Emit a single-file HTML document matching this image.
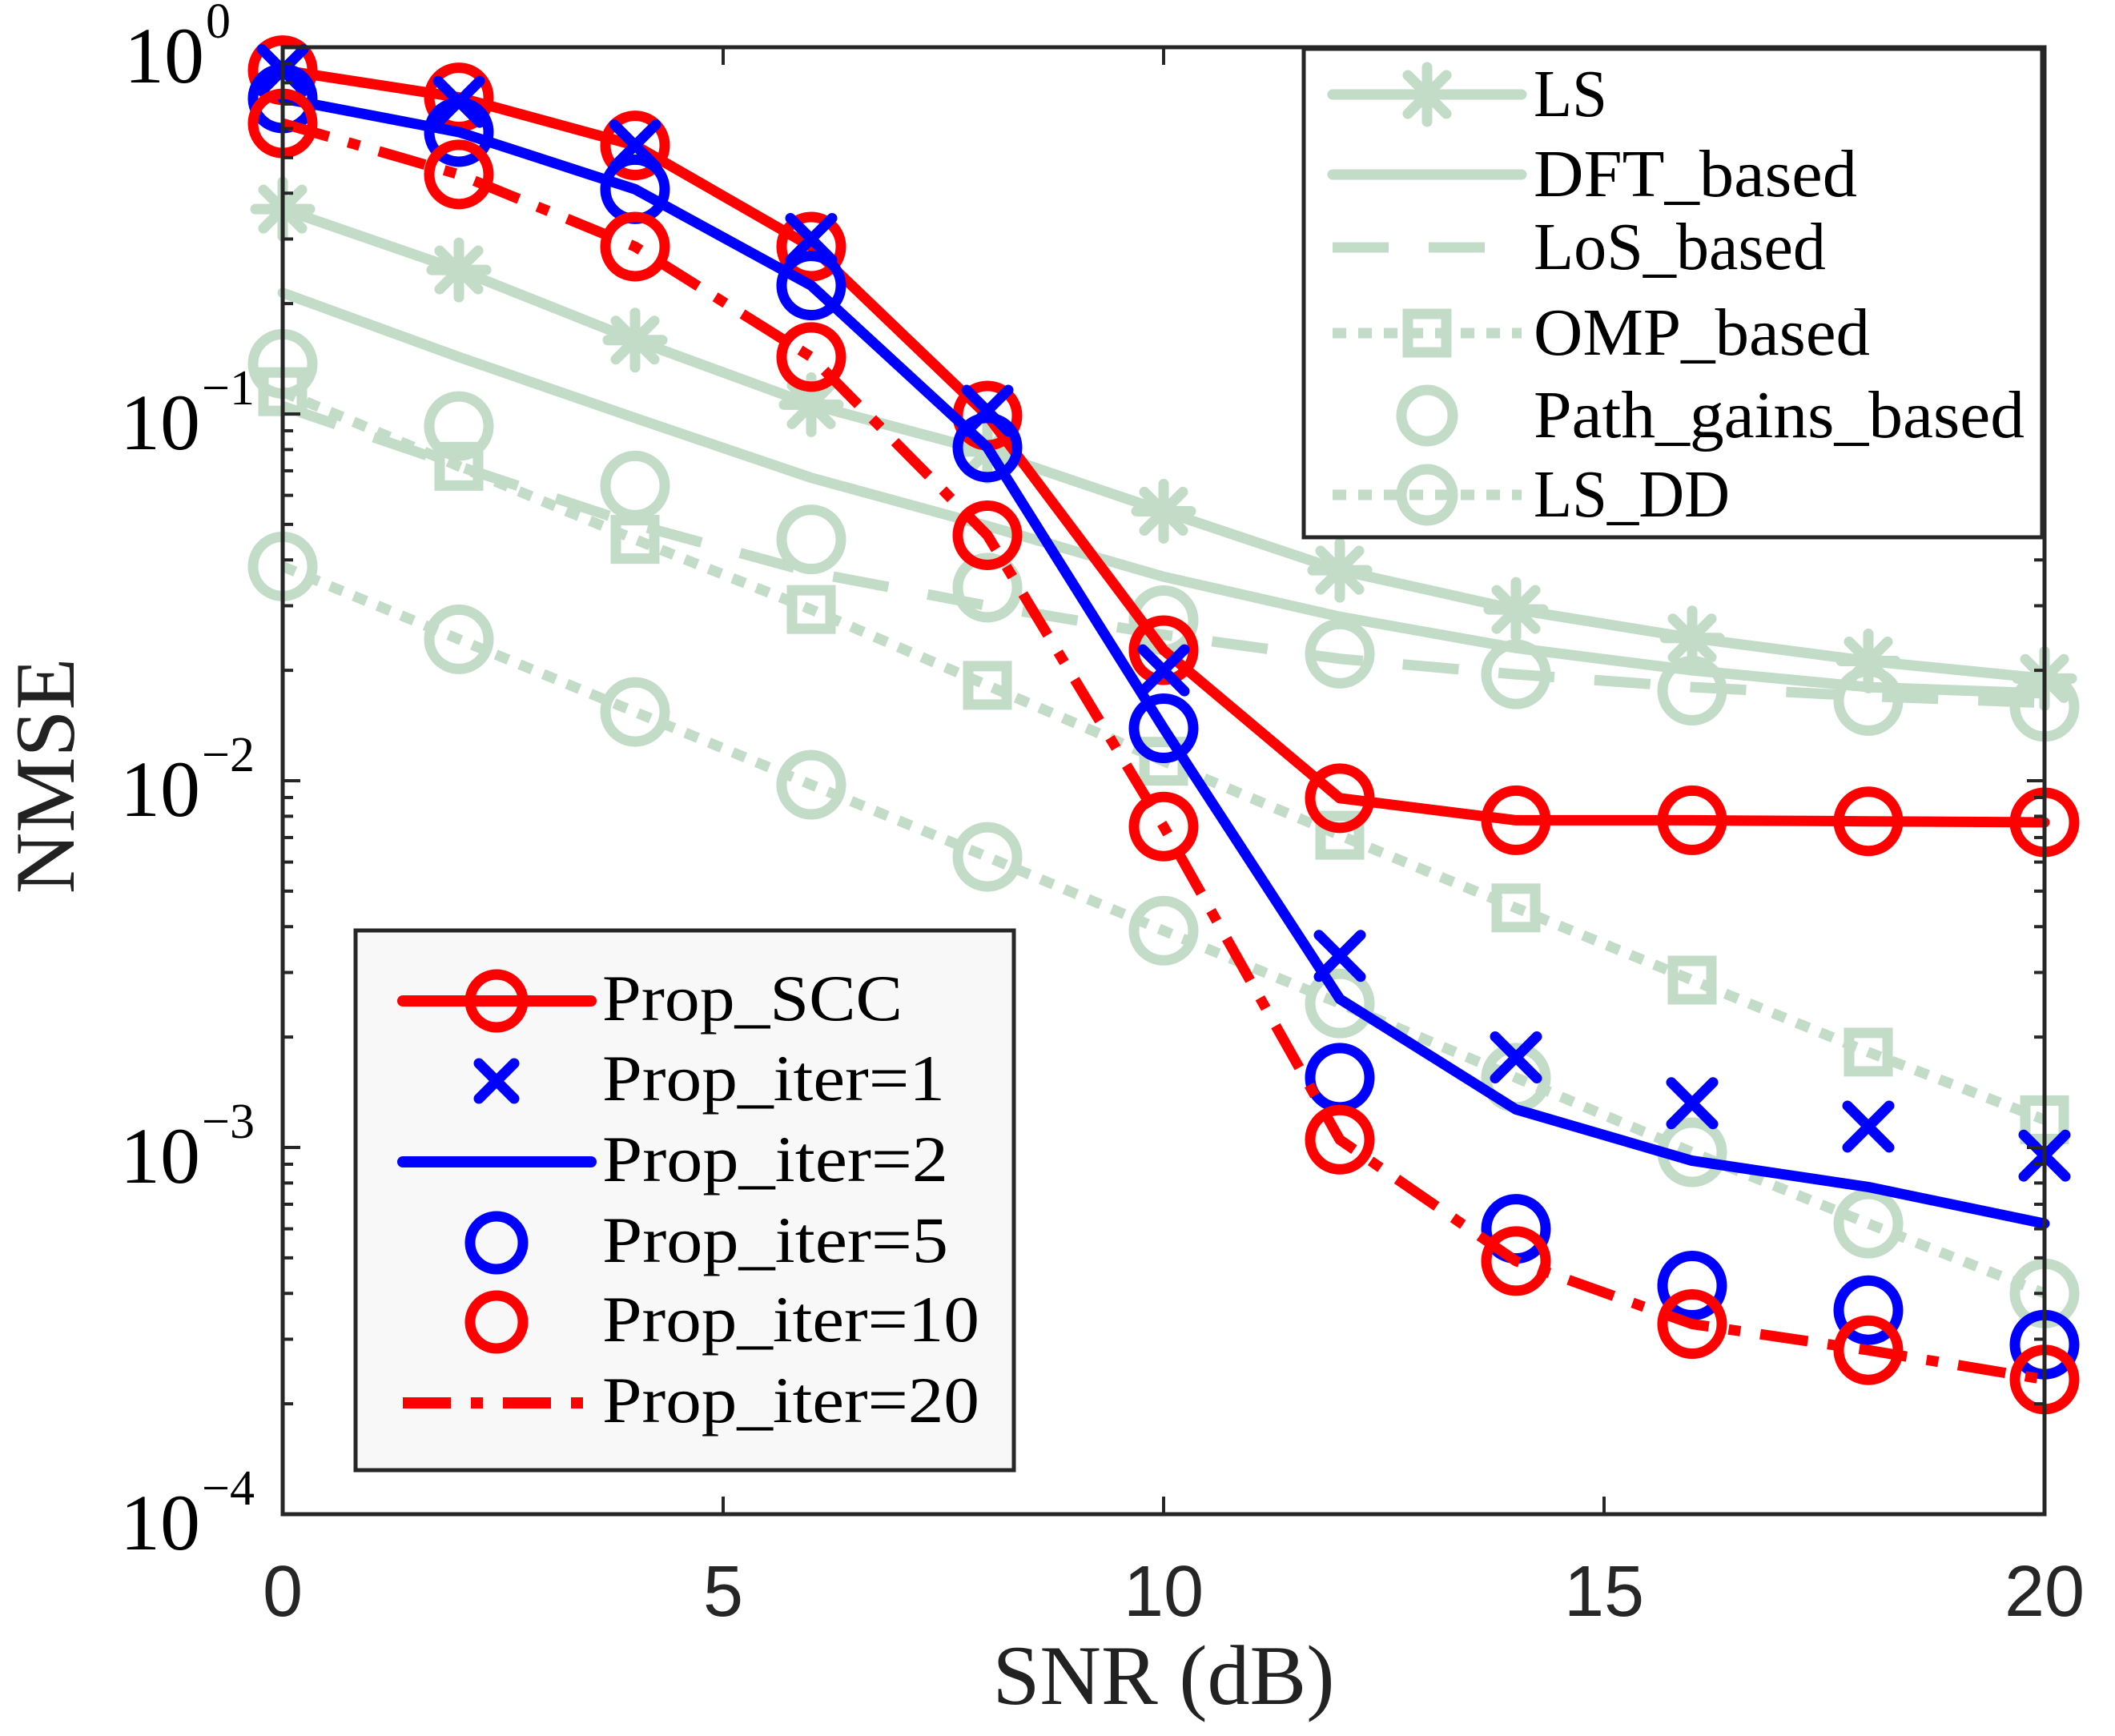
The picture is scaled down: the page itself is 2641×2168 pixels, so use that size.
<!DOCTYPE html>
<html><head><meta charset="utf-8"><style>
html,body{margin:0;padding:0;background:#fff;}
svg{display:block;}
</style></head><body>
<svg id="chart" xmlns="http://www.w3.org/2000/svg" width="2641" height="2168" viewBox="0 0 2641 2168">
<rect x="0" y="0" width="2641" height="2168" fill="#fff"/>
<g id="series"></g>
<g id="axes"></g>
<g id="legends"></g>
</svg>
<script>
const snr = [0,2,4,6,8,10,12,14,16,18,20];
const xTicks = [0,5,10,15,20];
const yTickExp = [0,-1,-2,-3,-4];
const lsVals = [0.362,0.247,0.159,0.106,0.079,0.0543,0.0375,0.0293,0.0245,0.0212,0.019];
const dftVals = [0.214,0.143,0.0975,0.067,0.0495,0.036,0.028,0.023,0.020,0.018,0.0173];
const losVals = [0.105,0.072,0.050,0.037,0.030,0.025,0.0215,0.0195,0.018,0.017,0.0163];
const ompVals = [0.115,0.072,0.0455,0.0293,0.0182,0.0113,0.0071,0.0045,0.00286,0.00182,0.00119];
const pathVals = [0.137,0.0927,0.0638,0.0455,0.0336,0.0274,0.0222,0.0195,0.0176,0.0165,0.0159];
const lsddVals = [0.0384,0.0243,0.0154,0.00975,0.0062,0.0039,0.00247,0.00155,0.00097,0.00062,0.0004];
const sccVals = [0.866,0.73,0.54,0.286,0.099,0.0227,0.00896,0.0078,0.0078,0.00775,0.0077];
const iter1Vals = [0.866,0.71,0.54,0.30,0.102,0.020,0.00333,0.00176,0.00132,0.00114,0.00095];
const iter2Vals = [0.725,0.587,0.41,0.224,0.081,0.0139,0.00254,0.00127,0.00092,0.00078,0.00062];
const iter5Vals = [0.725,0.587,0.41,0.224,0.081,0.0139,0.00155,0.0006,0.00042,0.00036,0.00029];
const iter10Vals = [0.62,0.45,0.286,0.143,0.0467,0.0075,0.00105,0.00049,0.00033,0.00028,0.000233];
const iter20Vals = [0.62,0.45,0.286,0.143,0.0467,0.0075,0.00105,0.00049,0.00033,0.00028,0.000233];

const L=353,R=2553,T=59,B=1891;
const NS='http://www.w3.org/2000/svg';
const GREEN='#c2dcc8', RED='#ff0000', BLUE='#0000ff', AX='#262626';
function xs(v){return L+(v-0)/(20-0)*(R-L);}
function ys(v){return T+(0-Math.log10(v))/4*(B-T);}
function mk(tag,attrs,parent){const e=document.createElementNS(NS,tag);for(const k in attrs)e.setAttribute(k,attrs[k]);parent.appendChild(e);return e;}
const gS=document.getElementById('series'),gA=document.getElementById('axes'),gL=document.getElementById('legends');

function marker(type,cx,cy,color,parent,r){
  let e;
  if(type==='o'){e=mk('circle',{cx:cx,cy:cy,r:r,fill:'none',stroke:color,'stroke-width':13},parent);}
  else if(type==='x'){e=mk('path',{d:`M${cx-r},${cy-r}L${cx+r},${cy+r}M${cx-r},${cy+r}L${cx+r},${cy-r}`,stroke:color,'stroke-width':13,'stroke-linecap':'round',fill:'none'},parent);}
  else if(type==='s'){e=mk('rect',{x:cx-r,y:cy-r,width:2*r,height:2*r,fill:'none',stroke:color,'stroke-width':13},parent);}
  else if(type==='*'){let d='';for(let i=0;i<4;i++){const a=i*Math.PI/4;d+=`M${cx-r*Math.cos(a)},${cy-r*Math.sin(a)}L${cx+r*Math.cos(a)},${cy+r*Math.sin(a)}`;}
    e=mk('path',{d:d,stroke:color,'stroke-width':13,'stroke-linecap':'round',fill:'none'},parent);}
  return e;
}
function series(name,vals,color,dash,mtype,mr){
  const g=mk('g',{},gS);
  
  
  if(dash!==null){
    const pts=snr.map((s,i)=>xs(s)+','+ys(vals[i])).join(' ');
    const pl=mk('polyline',{points:pts,fill:'none',stroke:color,'stroke-width':13,'stroke-linejoin':'round','stroke-linecap':dash?'butt':'round'},g);
    if(dash)pl.setAttribute('stroke-dasharray',dash);
    
    
  }
  if(mtype){snr.forEach((s,i)=>{const m=marker(mtype,xs(s),ys(vals[i]),color,g,mr);
    
    });}
}
series('ls-series',lsVals,GREEN,'',  '*',34);
series('dft-series',dftVals,GREEN,'',null,0);
series('los-series',losVals,GREEN,'70 50',null,0);
series('omp-series',ompVals,GREEN,'17 15','s',24);
series('path-gains-series',pathVals,GREEN,null,'o',37);
series('ls-dd-series',lsddVals,GREEN,'17 15','o',37);
series('prop-scc-series',sccVals,RED,'','o',37);
series('prop-iter1-series',iter1Vals,BLUE,null,'x',26);
series('prop-iter2-series',iter2Vals,BLUE,'',null,0);
series('prop-iter5-series',iter5Vals,BLUE,null,'o',37);
series('prop-iter10-series',iter10Vals,RED,null,'o',37);
series('prop-iter20-series',iter20Vals,RED,'60 25 15 25',null,0);

const box=mk('rect',{x:L,y:T,width:R-L,height:B-T,fill:'none',stroke:AX,'stroke-width':5},gA);

xTicks.forEach(v=>{
  const x=xs(v);
  mk('line',{x1:x,y1:B,x2:x,y2:B-22,stroke:AX,'stroke-width':4},gA);
  mk('line',{x1:x,y1:T,x2:x,y2:T+22,stroke:AX,'stroke-width':4},gA);
  const t=mk('text',{x:x,y:2018,'font-family':'Liberation Sans, sans-serif','font-size':90,fill:AX,'text-anchor':'middle'},gA);
  t.textContent=String(v);
  
});
for(let d=0;d<4;d++){for(let k=2;k<=9;k++){const y=ys(k*Math.pow(10,-d-1));
  mk('line',{x1:L,y1:y,x2:L+13,y2:y,stroke:AX,'stroke-width':4},gA);
  mk('line',{x1:R,y1:y,x2:R-13,y2:y,stroke:AX,'stroke-width':4},gA);}}
yTickExp.forEach(e=>{
  const y=ys(Math.pow(10,e));
  mk('line',{x1:L,y1:y,x2:L+22,y2:y,stroke:AX,'stroke-width':4},gA);
  mk('line',{x1:R,y1:y,x2:R-22,y2:y,stroke:AX,'stroke-width':4},gA);
  const t=mk('text',{x:e===0?255:250,y:y+44,'font-family':'Liberation Serif, serif','font-size':100,fill:'#000','text-anchor':'end'},gA);
  t.textContent='10';
  
  const s=mk('text',{x:e===0?257:252,y:y-12,'font-family':'Liberation Serif, serif','font-size':62,fill:'#000'},gA);
  s.textContent=e===0?'0':'\u2212'+(-e);
  
});
const xl=mk('text',{x:1453,y:2128,'font-family':'Liberation Serif, serif','font-size':106,fill:'#222','text-anchor':'middle'},gA);
xl.textContent='SNR (dB)';
const yl=mk('text',{x:0,y:0,transform:'translate(92,969) rotate(-90)','font-family':'Liberation Serif, serif','font-size':106,fill:'#222','text-anchor':'middle'},gA);
yl.textContent='NMSE';

const lg1=mk('g',{},gL);
mk('rect',{x:1628,y:61,width:922,height:610,fill:'#fff',stroke:AX,'stroke-width':5},lg1);
const leg1=[['LS','','*',118,92],['DFT_based','',null,218,404],['LoS_based','70 50',null,309,365],['OMP_based','17 15','s',416,420],['Path_gains_based',null,'o',519,613],['LS_DD','17 15','o',618,245]];
leg1.forEach(r=>{
  const g=mk('g',{},lg1);
  const y=r[3];
  if(r[1]!==null){const l=mk('line',{x1:1664,y1:y,x2:1900,y2:y,stroke:GREEN,'stroke-width':13,'stroke-linecap':r[1]?'butt':'round'},g);if(r[1])l.setAttribute('stroke-dasharray',r[1]);}
  if(r[2])marker(r[2],1782,y,GREEN,g,r[2]==='s'?24:r[2]==='*'?34:32);
  const t=mk('text',{x:1915,y:y+27,'font-family':'Liberation Serif, serif','font-size':84,fill:'#000',textLength:r[4],lengthAdjust:'spacingAndGlyphs'},g);
  t.textContent=r[0];
});
const lg2=mk('g',{},gL);
mk('rect',{x:444,y:1162,width:822,height:674,fill:'#f8f8f8',stroke:AX,'stroke-width':5},lg2);
const leg2=[['Prop_SCC',RED,'','o',1250,375],['Prop_iter=1',BLUE,null,'x',1350,428],['Prop_iter=2',BLUE,'',null,1451,432],['Prop_iter=5',BLUE,null,'o',1552,432],['Prop_iter=10',RED,null,'o',1651,471],['Prop_iter=20',RED,'60 25 15 25',null,1752,471]];
leg2.forEach(r=>{
  const g=mk('g',{},lg2);
  const y=r[4];
  if(r[2]!==null){const l=mk('line',{x1:503,y1:y,x2:738,y2:y,stroke:r[1],'stroke-width':14,'stroke-linecap':r[2]?'butt':'round'},g);if(r[2])l.setAttribute('stroke-dasharray',r[2]);}
  if(r[3])marker(r[3],620,y,r[1],g,r[3]==='x'?22:33);
  const t=mk('text',{x:752,y:y+24,'font-family':'Liberation Serif, serif','font-size':82,fill:'#000',textLength:r[5],lengthAdjust:'spacingAndGlyphs'},g);
  t.textContent=r[0];
});
</script>
</body></html>
